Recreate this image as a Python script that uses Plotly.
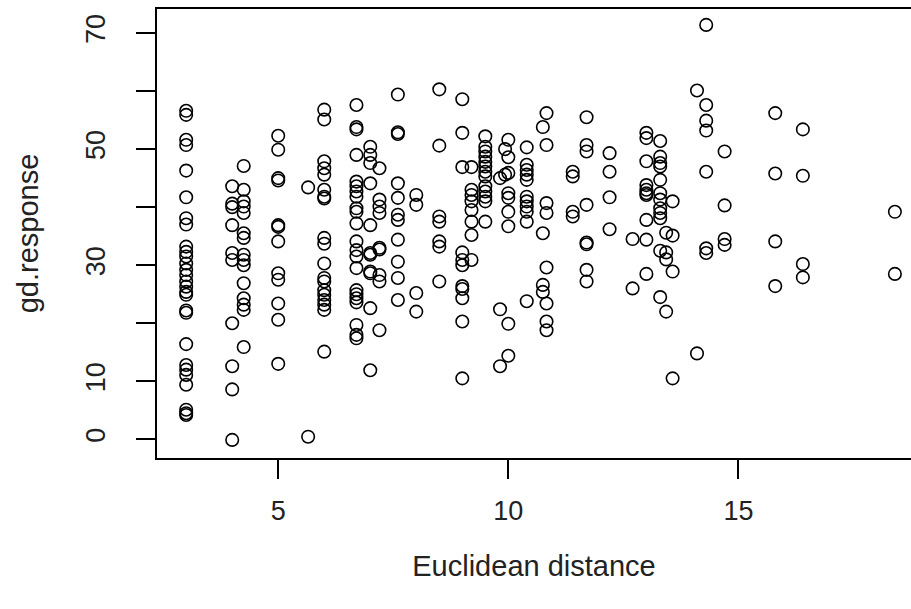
import plotly.graph_objects as go

# Distance levels and the gd.response values observed at each level
group_distance = [3.0, 4.0, 4.25, 5.0, 5.65, 6.0, 6.7, 7.0, 7.2, 7.6, 8.0, 8.5, 9.0, 9.2, 9.5,
                  9.82, 9.93, 10.0, 10.4, 10.75, 10.83, 11.4, 11.7, 12.2, 12.7, 13.0, 13.3,
                  13.43, 13.57, 14.1, 14.3, 14.7, 15.8, 16.4, 18.4]

group_response = [
    [56.6, 55.9, 51.6, 50.7, 46.3, 41.7, 38.1, 37.0, 33.2, 32.3, 31.5, 30.3, 29.2, 28.3,
     27.2, 26.3, 25.4, 24.9, 22.2, 21.8, 16.4, 12.8, 12.0, 11.1, 9.4, 5.1, 4.5, 4.2],
    [43.6, 40.6, 40.0, 36.9, 32.1, 30.9, 20.0, 12.6, 8.6, -0.1],
    [47.1, 43.0, 41.0, 40.1, 39.0, 35.5, 34.7, 31.8, 30.9, 30.0, 26.9, 24.3, 23.2, 22.3, 15.9],
    [52.3, 49.9, 45.0, 44.6, 36.9, 36.6, 34.1, 28.6, 27.5, 23.4, 20.6, 13.0],
    [43.4, 0.45],
    [56.8, 55.1, 47.9, 46.7, 45.6, 43.0, 41.8, 41.5, 34.7, 33.7, 30.3, 27.8, 27.2, 25.7,
     24.9, 24.0, 23.2, 22.3, 15.1],
    [57.6, 53.8, 53.4, 49.0, 44.4, 43.6, 42.7, 41.8, 39.8, 39.2, 37.2, 34.1, 32.6, 31.5,
     29.5, 25.7, 25.0, 24.3, 23.6, 19.7, 18.0, 17.4],
    [50.4, 49.0, 47.6, 44.1, 36.9, 32.1, 31.8, 28.9, 28.6, 22.6, 11.9],
    [46.7, 41.3, 40.1, 39.0, 33.0, 32.7, 28.3, 27.2, 18.8],
    [59.4, 52.9, 52.6, 44.1, 41.6, 38.7, 37.8, 34.4, 30.6, 27.8, 24.0],
    [42.1, 40.4, 25.2, 22.0],
    [60.3, 50.6, 38.4, 37.5, 34.1, 33.2, 27.2],
    [58.6, 52.8, 46.9, 32.2, 30.9, 30.0, 26.4, 25.9, 24.3, 20.3, 10.5],
    [46.9, 43.0, 42.1, 41.0, 39.5, 37.5, 35.2, 30.9],
    [52.2, 50.4, 49.6, 48.7, 47.8, 47.0, 46.1, 45.3, 43.6, 42.7, 41.8, 41.0, 37.5],
    [45.0, 22.4, 12.6],
    [50.0, 45.6],
    [51.6, 48.6, 45.9, 42.4, 41.6, 39.2, 36.7, 19.9, 14.4],
    [50.3, 47.3, 46.4, 45.6, 44.7, 41.8, 41.0, 40.1, 39.2, 37.5, 23.8],
    [53.8, 35.5, 26.6, 25.4],
    [56.2, 50.7, 40.7, 39.0, 29.6, 23.4, 20.3, 18.8],
    [46.1, 45.3, 39.2, 38.4],
    [55.5, 50.7, 49.6, 40.4, 33.9, 33.6, 29.2, 27.2],
    [49.3, 46.1, 41.7, 36.2],
    [34.5, 26.0],
    [52.8, 51.9, 47.9, 43.8, 43.0, 42.4, 42.1, 37.8, 34.4, 28.5],
    [51.4, 48.7, 47.6, 47.0, 44.7, 42.4, 41.3, 39.8, 39.0, 38.1, 32.5, 24.5],
    [35.6, 32.2, 31.0, 22.0],
    [41.0, 35.1, 28.9, 10.5],
    [60.1, 14.8],
    [71.4, 57.6, 54.9, 53.2, 46.1, 32.9, 32.1],
    [49.6, 40.3, 34.5, 33.5],
    [56.2, 45.8, 34.1, 26.4],
    [53.4, 45.4, 30.2, 27.9],
    [39.2, 28.5],
]

x_ticks = [5, 10, 15]
y_ticks = [0, 10, 20, 30, 40, 50, 60, 70]
y_tick_labels = ["0", "10", "", "30", "", "50", "", "70"]

distance = [d for d, ys in zip(group_distance, group_response) for _ in ys]
response = [y for ys in group_response for y in ys]

FONT = "Liberation Sans, Arial, sans-serif"
TEXT = "#222"

fig = go.Figure(
    go.Scatter(
        x=distance,
        y=response,
        mode="markers",
        marker=dict(symbol="circle-open", size=12.5, color="black",
                    line=dict(width=1.6, color="black")),
        hoverinfo="x+y",
    )
)

fig.update_layout(
    width=911,
    height=609,
    margin=dict(l=157, r=0, t=9, b=151),
    paper_bgcolor="white",
    plot_bgcolor="white",
    showlegend=False,
    font=dict(family=FONT, color="black"),
)

fig.update_xaxes(
    range=[2.366, 18.75],
    tickvals=x_ticks,
    ticktext=[str(v) for v in x_ticks],
    ticks="outside",
    ticklen=19,
    tickwidth=1.6,
    tickcolor="black",
    showline=True,
    linecolor="black",
    linewidth=1.6,
    mirror=True,
    showgrid=False,
    zeroline=False,
    tickfont=dict(size=27, family=FONT, color=TEXT),
    ticklabelstandoff=9,
    title=dict(text="Euclidean distance", font=dict(size=29, family=FONT, color=TEXT),
               standoff=30),
)

fig.update_yaxes(
    range=[-3.22, 74.14],
    tickvals=y_ticks,
    ticktext=y_tick_labels,
    tickangle=-90,
    ticks="outside",
    ticklen=19,
    tickwidth=1.6,
    tickcolor="black",
    showline=True,
    linecolor="black",
    linewidth=1.6,
    mirror=False,
    showgrid=False,
    zeroline=False,
    tickfont=dict(size=27, family=FONT, color=TEXT),
    ticklabelstandoff=20,
    title=dict(text="gd.response", font=dict(size=29, family=FONT, color=TEXT),
               standoff=34),
)

fig.write_html("out.html")
